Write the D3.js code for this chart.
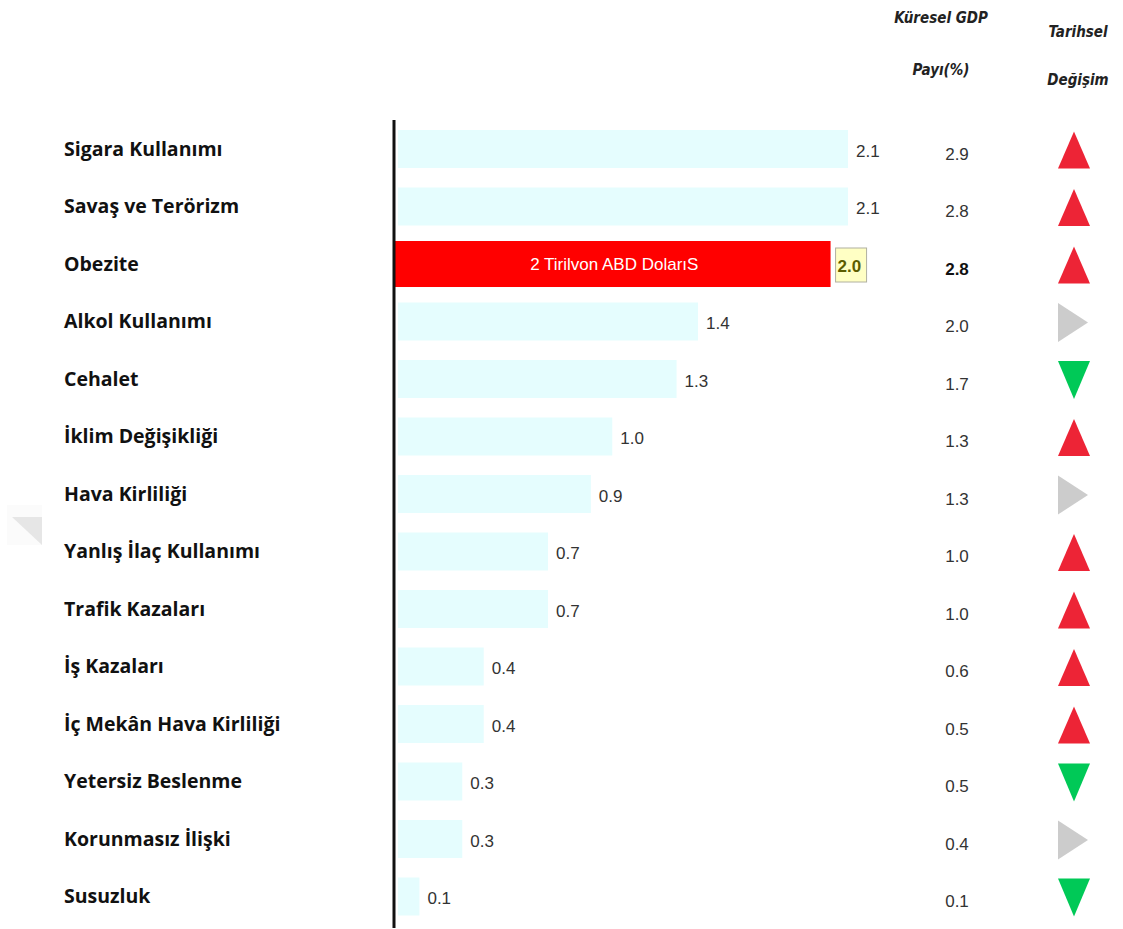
<!DOCTYPE html>
<html>
<head>
<meta charset="utf-8">
<script src="https://cdn.jsdelivr.net/npm/d3@7"></script>
<style>
  body { margin: 0; background: #fff; }
</style>
</head>
<body>
<svg id="chart" width="1123" height="929"></svg>
<script>
const categories = [
  'Sigara Kullanımı',
  'Savaş ve Terörizm',
  'Obezite',
  'Alkol Kullanımı',
  'Cehalet',
  'İklim Değişikliği',
  'Hava Kirliliği',
  'Yanlış İlaç Kullanımı',
  'Trafik Kazaları',
  'İş Kazaları',
  'İç Mekân Hava Kirliliği',
  'Yetersiz Beslenme',
  'Korunmasız İlişki',
  'Susuzluk'
]

// cost, trillion USD
const costs = [2.1, 2.1, 2.0, 1.4, 1.3, 1.0, 0.9, 0.7, 0.7, 0.4, 0.4, 0.3, 0.3, 0.1]

// share of global GDP (%)
const gdpShare = [2.9, 2.8, 2.8, 2.0, 1.7, 1.3, 1.3, 1.0, 1.0, 0.6, 0.5, 0.5, 0.4, 0.1]

// historical change
const trends = ['up', 'up', 'up', 'flat', 'down', 'up', 'flat', 'up', 'up', 'up', 'up', 'down', 'flat', 'down']

const highlight = 'Obezite'
const highlightText = '2 Tirilvon ABD DolarıS'
const gdpHeader = ['Küresel GDP', 'Payı(%)']
const trendHeader = ['Tarihsel', 'Değişim']

const trendColor = {
  up: '#ed2436',
  down: '#00c957',
  flat: '#cccccc'
}

const svg = d3.select('#chart');

const y = d3.scaleBand()
  .domain(categories)
  .range([130, 915.5])
  .paddingInner(0.339)
  .paddingOuter(0);

const x = d3.scaleLinear()
  .domain([0, 2.1])
  .range([398, 848]);

const rows = categories.map((name, i) => ({
  name,
  cost: costs[i],
  gdp: gdpShare[i],
  trend: trends[i]
}));

const mid = d => y(d.name) + y.bandwidth() / 2;

// faint corner mark on the left edge
svg.append('rect')
  .attr('x', 7).attr('y', 505)
  .attr('width', 35).attr('height', 40)
  .attr('fill', '#fbfbfb');
svg.append('path')
  .attr('d', 'M12,517L42,517L42,545Z')
  .attr('fill', '#e6e6e6');

// row labels
svg.append('g')
  .selectAll('text')
  .data(rows)
  .join('text')
  .attr('x', 64)
  .attr('y', mid)
  .attr('dy', '0.35em')
  .attr('font-family', '"Open Sans", Lato, sans-serif')
  .attr('font-weight', 'bold')
  .attr('font-size', 19.5)
  .attr('fill', '#111')
  .text(d => d.name);

// bars
svg.append('g')
  .selectAll('rect')
  .data(rows)
  .join('rect')
  .attr('x', d => d.name === highlight ? x(0) - 3 : x(0))
  .attr('y', d => d.name === highlight ? y(d.name) - 4 : y(d.name))
  .attr('width', d => x(d.cost) - x(0) + (d.name === highlight ? 7 : 0))
  .attr('height', d => d.name === highlight ? y.bandwidth() + 8 : y.bandwidth())
  .attr('fill', d => d.name === highlight ? '#ff0000' : '#e5fdfe');

const hi = rows.find(d => d.name === highlight);

svg.append('text')
  .attr('x', (x(0) + x(hi.cost)) / 2 + 2)
  .attr('y', mid(hi))
  .attr('dy', '0.35em')
  .attr('text-anchor', 'middle')
  .attr('font-family', '"Liberation Sans", Arial, sans-serif')
  .attr('font-size', 17)
  .attr('fill', '#fff')
  .text(highlightText);

// value labels
const vals = svg.append('g')
  .attr('font-family', '"Liberation Sans", Arial, sans-serif')
  .attr('font-size', 17);

vals.selectAll('rect')
  .data(rows.filter(d => d.name === highlight))
  .join('rect')
  .attr('x', d => x(d.cost) + 9)
  .attr('y', d => mid(d) - 16)
  .attr('width', 31)
  .attr('height', 34)
  .attr('fill', '#ffffc4')
  .attr('stroke', '#b0b0a0');

vals.selectAll('text')
  .data(rows)
  .join('text')
  .attr('x', d => x(d.cost) + (d.name === highlight ? 11 : 8))
  .attr('y', d => mid(d) + 2)
  .attr('dy', '0.35em')
  .attr('font-weight', d => d.name === highlight ? 'bold' : 'normal')
  .attr('fill', d => d.name === highlight ? '#5c5c00' : '#333')
  .text(d => d.cost.toFixed(1));

// axis line
svg.append('line')
  .attr('x1', 394).attr('x2', 394)
  .attr('y1', 120).attr('y2', 928)
  .attr('stroke', '#111')
  .attr('stroke-width', 3);

// GDP share column
svg.append('g')
  .selectAll('text')
  .data(rows)
  .join('text')
  .attr('x', 957)
  .attr('y', d => mid(d) + 5)
  .attr('dy', '0.35em')
  .attr('text-anchor', 'middle')
  .attr('font-family', '"Liberation Sans", Arial, sans-serif')
  .attr('font-size', 17)
  .attr('font-weight', d => d.name === highlight ? 'bold' : 'normal')
  .attr('fill', d => d.name === highlight ? '#111' : '#333')
  .text(d => d.gdp.toFixed(1));

// trend arrows
const arrowPath = {
  up: 'M-16,18.5L0,-18.5L16,18.5Z',
  down: 'M-16,-19L16,-19L0,19Z',
  flat: 'M-16,-19.5L14,0L-16,19.5Z'
};

svg.append('g')
  .selectAll('path')
  .data(rows)
  .join('path')
  .attr('transform', d => `translate(1074,${mid(d) + 1})`)
  .attr('d', d => arrowPath[d.trend])
  .attr('fill', d => trendColor[d.trend]);

// column headers
const head = svg.append('g')
  .attr('font-family', '"DejaVu Sans Condensed", "DejaVu Sans", sans-serif')
  .attr('font-style', 'italic')
  .attr('font-weight', 'bold')
  .attr('font-size', 15)
  .attr('fill', '#222')
  .attr('text-anchor', 'middle');

head.selectAll('text.gdp')
  .data(gdpHeader)
  .join('text')
  .attr('class', 'gdp')
  .attr('x', 941)
  .attr('y', (d, i) => 23 + i * 52)
  .text(d => d);

head.selectAll('text.trend')
  .data(trendHeader)
  .join('text')
  .attr('class', 'trend')
  .attr('x', 1078)
  .attr('y', (d, i) => 37 + i * 48)
  .text(d => d);
</script>
</body>
</html>
